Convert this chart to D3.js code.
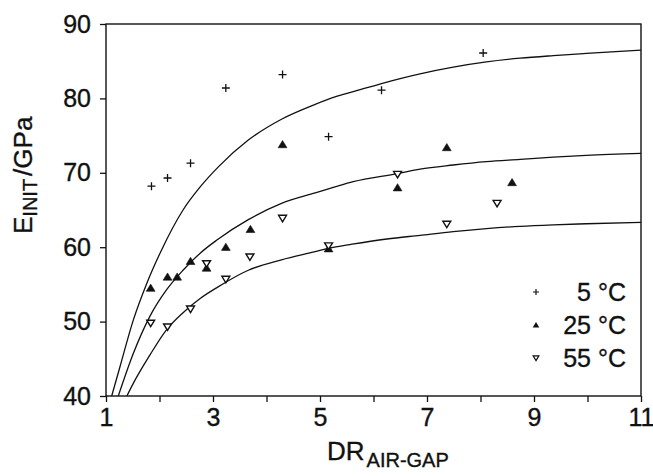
<!DOCTYPE html>
<html>
<head>
<meta charset="utf-8">
<script src="https://cdn.jsdelivr.net/npm/d3@7/dist/d3.min.js"></script>
<style>
  html, body { margin: 0; padding: 0; background: #fff; }
  svg { display: block; }
  text { font-family: "Liberation Sans", Arial, Helvetica, sans-serif; fill: #111; stroke: #111; stroke-width: 0.35px; }
</style>
</head>
<body>
<svg id="chart" width="653" height="476"></svg>
<script>
// Measured initial modulus vs air-gap draw ratio, three test temperatures
const series5 = [[1.85,68.2],[2.15,69.3],[2.58,71.3],[3.24,81.4],[4.30,83.2],[5.16,74.85],[6.15,81.1],[8.05,86.1]];
const series25 = [[1.835,54.5],[2.15,56.0],[2.33,56.0],[2.58,58.1],[2.88,57.2],[3.24,60.0],[3.70,62.4],[4.30,73.8],[5.16,59.8],[6.45,68.0],[7.37,73.4],[8.59,68.7]];
const series55 = [[1.835,49.8],[2.15,49.3],[2.58,51.7],[2.88,57.8],[3.24,55.7],[3.69,58.7],[4.30,63.9],[5.16,60.2],[6.45,69.8],[7.37,63.1],[8.31,65.9]];

// Fitted model curves
const fit5 = [[1.106,40.0],[1.26,43.9],[1.51,50.2],[1.76,55.1],[2.03,59.5],[2.44,65.0],[2.76,68.1],[3.10,70.8],[3.66,74.4],[4.28,77.2],[4.91,79.2],[5.28,80.2],[5.62,80.9],[6.15,82.0],[6.87,83.3],[7.49,84.2],[8.11,84.9],[8.74,85.4],[9.36,85.75],[9.98,86.05],[11,86.5]];
const fit25 = [[1.23,40.0],[1.51,45.7],[1.82,50.7],[2.13,54.25],[2.44,56.9],[2.76,59.2],[3.08,61.0],[3.66,63.7],[4.28,65.9],[4.91,67.3],[5.28,68.1],[5.62,68.8],[6.45,69.9],[6.87,70.5],[7.49,71.05],[8.11,71.5],[8.74,71.8],[9.36,72.1],[9.98,72.35],[11,72.6]];
const fit55 = [[1.39,40.0],[1.51,41.7],[1.82,45.5],[2.13,48.9],[2.44,51.2],[2.76,53.1],[3.08,54.6],[3.66,56.9],[4.28,58.3],[4.91,59.4],[5.16,59.85],[5.60,60.4],[6.25,61.1],[6.87,61.6],[7.49,62.1],[8.11,62.5],[8.74,62.8],[9.36,63.0],[9.98,63.15],[11,63.35]];

const xTicks = [1,2,3,4,5,6,7,8,9,10,11];
const xTickLabels = ["1","","3","","5","","7","","9","","11"];
const yTicks = [40,50,60,70,80,90];
const legendLabels = ["5 \u00B0C","25 \u00B0C","55 \u00B0C"];

const svg = d3.select("#chart");
const plotL = 106, plotR = 641, plotT = 24, plotB = 396;

const x = d3.scaleLinear().domain([1, 11]).range([plotL, plotR]);
const y = d3.scaleLinear().domain([40, 90]).range([plotB, plotT]);

// axes
const xAxis = d3.axisBottom(x).tickValues(xTicks)
  .tickFormat((d, i) => xTickLabels[i]).tickSize(6).tickPadding(6);
const gx = svg.append("g").attr("transform", `translate(0,${plotB})`).call(xAxis);
const yAxis = d3.axisLeft(y).tickValues(yTicks).tickFormat(d3.format("d")).tickSize(6).tickPadding(9);
const gy = svg.append("g").attr("transform", `translate(${plotL},0)`).call(yAxis);
[gx, gy].forEach(g => {
  g.select(".domain").remove();
  g.selectAll(".tick line").attr("stroke", "#111").attr("stroke-width", 1.3);
  g.selectAll(".tick text").attr("font-size", 25).attr("fill", "#111")
    .style("font-family", "'Liberation Sans', Arial, sans-serif");
});

// frame
svg.append("rect").attr("x", plotL).attr("y", plotT)
  .attr("width", plotR - plotL).attr("height", plotB - plotT)
  .attr("fill", "none").attr("stroke", "#111").attr("stroke-width", 1.4);

// clip for curves
svg.append("clipPath").attr("id", "plot-clip").append("rect")
  .attr("x", plotL).attr("y", plotT).attr("width", plotR - plotL).attr("height", plotB - plotT);

const line = d3.line().x(d => x(d[0])).y(d => y(d[1])).curve(d3.curveMonotoneX);
const curves = svg.append("g").attr("clip-path", "url(#plot-clip)");
[fit5, fit25, fit55].forEach(c => {
  curves.append("path").attr("d", line(c))
    .attr("fill", "none").attr("stroke", "#111").attr("stroke-width", 1.3);
});

// marker shapes
function plusPath(s) { return `M${-s},0H${s}M0,${-s}V${s}`; }
function triUp(s) { return `M0,${-s}L${s*1.1},${s*0.8}L${-s*1.1},${s*0.8}Z`; }
function triDown(s) { return `M0,${s}L${s*1.1},${-s*0.8}L${-s*1.1},${-s*0.8}Z`; }

const marks = svg.append("g");
marks.selectAll(".p5").data(series5).enter().append("path")
  .attr("transform", d => `translate(${x(d[0])},${y(d[1])})`)
  .attr("d", plusPath(4)).attr("stroke", "#111").attr("stroke-width", 1.3).attr("fill", "none");
marks.selectAll(".p25").data(series25).enter().append("path")
  .attr("transform", d => `translate(${x(d[0])},${y(d[1])})`)
  .attr("d", triUp(4)).attr("fill", "#111").attr("stroke", "#111").attr("stroke-width", 0.6);
marks.selectAll(".p55").data(series55).enter().append("path")
  .attr("transform", d => `translate(${x(d[0])},${y(d[1])})`)
  .attr("d", triDown(3.6)).attr("fill", "#fff").attr("stroke", "#111").attr("stroke-width", 1.4);

// legend
const legend = svg.append("g");
const legendRows = [292, 325, 358];
const legendShapes = [
  g => g.append("path").attr("d", plusPath(3)).attr("stroke", "#111").attr("stroke-width", 1.2).attr("fill", "none"),
  g => g.append("path").attr("d", triUp(3)).attr("fill", "#111"),
  g => g.append("path").attr("d", triDown(2.6)).attr("fill", "#fff").attr("stroke", "#111").attr("stroke-width", 1.2)
];
legendLabels.forEach((lab, i) => {
  const g = legend.append("g").attr("transform", `translate(536,${legendRows[i]})`);
  legendShapes[i](g);
  legend.append("text").attr("x", 626).attr("y", legendRows[i]).attr("dy", "0.36em")
    .attr("text-anchor", "end").attr("font-size", 25).text(lab);
});

// axis titles
const xt = svg.append("text").attr("x", 327).attr("y", 460).attr("font-size", 26);
xt.append("tspan").text("DR");
xt.append("tspan").attr("font-size", 20).attr("dx", 2).attr("dy", 7).text("AIR-GAP");

const yt = svg.append("text").attr("transform", "translate(32,234) rotate(-90)").attr("font-size", 26);
yt.append("tspan").text("E");
yt.append("tspan").attr("font-size", 20).attr("dy", 5).text("INIT");
yt.append("tspan").attr("dy", -5).attr("dx", 3).text("/GPa");
</script>
</body>
</html>
